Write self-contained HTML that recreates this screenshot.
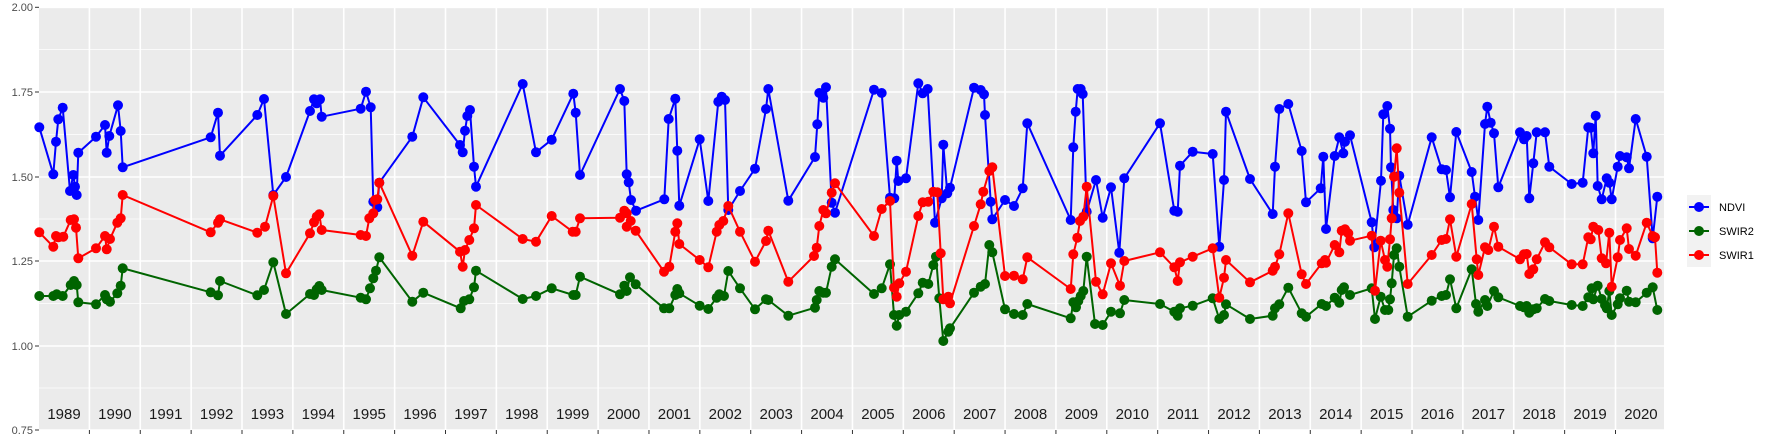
<!DOCTYPE html>
<html><head><meta charset="utf-8"><style>
html,body{margin:0;padding:0;background:#fff;}
svg{display:block;font-family:"Liberation Sans",sans-serif;}
</style></head><body>
<svg id="s" width="1773" height="442" xmlns="http://www.w3.org/2000/svg">
<rect x="39" y="7" width="1625" height="423" fill="#ebebeb"/>
<g id="grid"></g>
<g id="data"></g>
<g font-size="11" fill="#4d4d4d" text-anchor="end">
<text x="33" y="11">2.00</text><text x="33" y="96">1.75</text><text x="33" y="181">1.50</text>
<text x="33" y="265">1.25</text><text x="33" y="350">1.00</text><text x="33" y="434">0.75</text>
</g>
<g id="years" font-size="15" fill="#1a1a1a" text-anchor="middle"></g>
<rect x="1687" y="195" width="24" height="72" fill="#f2f2f2"/>
<g stroke-width="2"><line x1="1689" y1="207" x2="1709" y2="207" stroke="#0000ff"/><line x1="1689" y1="231" x2="1709" y2="231" stroke="#006400"/><line x1="1689" y1="255" x2="1709" y2="255" stroke="#ff0000"/></g>
<circle cx="1699" cy="207" r="5" fill="#0000ff"/><circle cx="1699" cy="231" r="5" fill="#006400"/><circle cx="1699" cy="255" r="5" fill="#ff0000"/>
<g font-size="11" fill="#000"><text x="1719" y="211">NDVI</text><text x="1719" y="235">SWIR2</text><text x="1719" y="259">SWIR1</text></g>
</svg>
<script>
var NS="http://www.w3.org/2000/svg";
function el(p,t,a){var e=document.createElementNS(NS,t);for(var k in a)e.setAttribute(k,a[k]);p.appendChild(e);return e;}
var g=document.getElementById("grid");
[49.6,134.5,219,303.5,388].forEach(function(y){el(g,"line",{x1:39,x2:1664,y1:y,y2:y,stroke:"#fff","stroke-width":0.8});});
[7.3,92,177,261,346,430].forEach(function(y){el(g,"line",{x1:39,x2:1664,y1:y,y2:y,stroke:"#fff","stroke-width":1.6});
 el(g,"line",{x1:35,x2:39,y1:y,y2:y,stroke:"#333","stroke-width":1});});
var yr=document.getElementById("years");
for(var k=0;k<32;k++){var cx=64+k*50.87;var t=el(yr,"text",{x:cx,y:419});t.textContent=1989+k;
 if(k<31){var bx=cx+25.4;el(g,"line",{x1:bx,x2:bx,y1:7,y2:430,stroke:"#fff","stroke-width":1.6});el(g,"line",{x1:bx,x2:bx,y1:430,y2:434,stroke:"#333","stroke-width":1});}}
var B=[39.3,127.3,53.3,174.3,56,141.7,58.3,119.3,62.7,107.7,70,191,73.3,175,75,186.7,76.7,195,78.3,152.7,96,136.7,105,125,106.7,152.7,109.3,136,118,105.3,120.7,131,122.7,167.3,210.7,137.3,218,112.7,220,155.7,257.3,115,264,99,273.3,195,286,177,310,111,314,99.3,316.7,103.3,320,99.3,321.7,116.7,360.7,108.7,366,91.7,370.7,107.3,373.3,201.7,377.3,207.3,379.3,182.7,412.3,136.7,423.3,97.3,460,145,462.7,152.3,465,130.7,467.3,116,470,110,474,166.7,476,186.7,522.7,84,536,152.3,551.7,139.7,573.3,93.7,575.7,112.7,580,175,620,89,624.3,101,626.7,174.3,628.7,182.3,631,200,636,210.7,664.3,199.3,668.7,119,675.3,98.7,677.3,150.7,679.3,205.7,699.7,139.3,708.3,201,718.3,101.7,721.7,96.7,725,100,728.3,210,740,191,755,168.7,766,109,768.3,89,788.3,200.7,815,157,817.3,124.3,819.3,93,823.3,97.7,826,87.3,831.7,202.7,835,212.7,874,89.7,881.7,93,890,197.7,894.3,198.3,896.7,160.7,898.3,181,906,178.3,918.3,83.3,922.7,93.3,927.7,89,935,222.7,941.7,198.3,943.3,144.7,947.3,193.3,950,187.7,974,87.7,980.7,90,984,94.3,985,115,990.7,201.7,992.3,219.3,1005,200,1014,206,1022.7,188.3,1027.3,123.3,1070.7,220,1073.3,147.3,1075.7,111.7,1077.7,89,1080.7,89,1082.7,94,1086.7,211.7,1096,180,1102.7,217.7,1111,187.3,1119.3,252.7,1124.3,178.3,1160,123.3,1174.3,210.7,1177.7,211.7,1180,165.7,1192.7,151.7,1212.7,154,1219.3,246.7,1224,180,1226,111.7,1250,179,1272.7,214,1275,166.7,1279.3,109,1288.3,104,1301.7,151,1306,202.3,1320.7,188.3,1323.3,156.7,1326,229,1334.7,156,1339.3,137.3,1343.3,153.3,1345,141.7,1350,135.3,1371.7,222.3,1374.3,247.3,1381,180.7,1383.3,114.3,1387.3,106,1390,128.7,1391,167.3,1393.3,210,1396.7,218.3,1399.3,175.7,1407.7,224.7,1431.7,137.3,1441.7,169.3,1446,170,1450,197.3,1456.3,132,1471.7,172,1475,196.7,1478.3,220,1485,124,1487.3,106.7,1490.7,122.7,1494,133.3,1498.3,187.3,1520,132.3,1524,139.3,1526.7,136,1529.3,198.3,1533.3,163.3,1536.7,132.3,1545,132.3,1549.3,166.7,1571.7,184,1582.7,182.7,1588.3,127.3,1590.7,127.7,1593.3,153.3,1595.7,115.7,1597.7,186,1601.7,199.3,1606.7,178.3,1609.3,182.7,1611.7,199.3,1617.7,166.7,1620,156,1626.7,157.3,1629,168.3,1635.7,119,1646.7,156.7,1652.7,238.3,1657.3,196.7];
var G=[39.3,296,53.3,296,56.7,294.3,62.7,296,70.7,285,74,281,76.7,285,78.3,302.3,96,304.3,105,295,106.7,299.3,110,301.7,117.3,293.3,120.7,285.7,122.7,268.3,210.7,292.3,218,295.3,220,281,257.3,295.3,264,290,273.3,262.3,286,314,310,294,314,295,316.7,289.3,319.3,286,321.7,290,360.7,297.7,366,299.3,370,288.3,373.3,278.3,376,270.7,379.3,257.3,412.3,301.7,423.3,292.7,460.7,308.3,464,301,469.3,299.3,474,287.3,476,270.7,522.7,299,536,296,551.7,288.3,573.3,295,575.7,295,580,276.7,620,294.3,624.3,285.7,626.7,291,630,277.3,635.7,284.3,664,308.3,669.3,308.3,675.3,295,677.3,289,679.3,293.3,699.7,305.7,708.3,309,716.7,297.7,719.3,294.3,724,296,728.3,271,740,288.3,755,309.3,766,299.3,768.3,300,788.3,315.7,815,307.7,816.7,300,819.3,291,823.3,292.7,826,292.7,831.7,266.7,835,259.3,874,294,881.7,288.3,890,264.3,894,315,896.7,325.7,899.3,315,906,311.7,918.3,293.3,922.7,282.7,928.3,284,933.3,265,936,256.7,939.3,298.3,943.3,341,948.3,331.7,950,328.3,974,292.7,980.7,286.7,985,284,989.3,245,992.3,252.3,1005,309.3,1014,314,1022.7,315,1027.3,304,1070.7,318.3,1073.3,302.3,1076,307.3,1078.3,301,1080.7,296,1083.3,291,1086.7,256.7,1095,324,1102.7,325,1111,311.7,1120,313.3,1124.3,300,1160,304,1174.3,311.7,1177.7,315.7,1180,308.3,1192.7,305.7,1212.7,298.3,1219.3,319,1224,315,1226,304.3,1250,319,1272.7,315.7,1275,308.3,1279.3,304.3,1288.3,287.7,1301.7,313.3,1306,316.7,1321.7,304,1326,306,1334.7,297.7,1339.3,302.7,1341.7,290,1344,287.3,1350,295,1371.7,288.3,1375,319,1380.7,296.7,1385,310,1388.3,310,1390,299.3,1391.7,283.3,1394,255,1396.7,248.3,1399.3,266.7,1407.7,316.7,1431.7,300.7,1441.7,296,1446,295,1450,279.3,1456.3,308.3,1471.7,269.3,1476,304,1478.3,311.7,1485,300,1487.3,306,1494,291,1498.3,297.3,1520,306,1524,307.3,1526.7,306,1529.3,312.7,1533.3,309.3,1536.7,308.3,1545,299,1549.3,301,1571.7,305,1582.7,306,1588.3,297.3,1591.7,288.3,1593.3,299.3,1597.7,285.7,1601.7,299,1605,305,1606.7,308.3,1609.3,291,1611.7,315,1617.7,304.3,1620,298.3,1626.7,290.7,1629,301.7,1635.7,302.3,1646.7,292.7,1652.7,287.3,1657.3,310];
var R=[39.3,232.3,53.3,246.7,56,236,58.3,237.3,63.3,236.7,70.7,220,74,219.3,76,227.7,78.3,258.3,96,248.3,105,236,106.7,249.3,110,239,117.3,222.7,120.7,218.3,122.7,195,210.7,232.3,218,222.7,220,219.3,257.3,232.7,265,226.7,273.3,196,286,273.3,310,233.3,314,222.3,316.7,216.7,319.3,214.3,321.7,230,360.7,235,366,236,369.3,218.3,373.3,213.3,375,200,377.3,199.3,379.3,182.7,412.3,255.7,423.3,221.7,460,251.7,462.7,266.7,465,250,469.3,240,474,228.3,476,205,522.7,239,536,241.7,551.7,216,572.7,231.7,575.7,231.7,580,218.3,620,217.7,624.3,210.7,626.7,213.3,630.7,221,626.7,226.7,635.7,230.7,664,271.7,669.3,266.7,675.3,231.7,677.3,223.3,679.3,244,699.7,260,708.3,267.3,716.7,231.7,719.3,225,723.3,221,728.3,206,740,231.7,755,261.7,766,241,768.3,230.7,788.3,281.7,814,256,816.7,247.7,819.3,226,823.3,210,826,213.3,831.7,192.7,835,183.3,874,236,881.7,209,890,201,894,287.7,896.7,296.7,899.3,283.3,906,271.7,918.3,216,922.7,202.3,928.3,201.7,933.3,191.7,937.3,192.3,940.7,253.3,943.3,299.3,948.3,296.7,950,303.3,974,226,980.7,204.3,983.3,191.7,989.3,171,992.3,167.3,1005,276,1014,275.7,1022.7,279.3,1027.3,257.3,1070.7,289,1073.3,254.3,1077.3,237.7,1080,221,1083.3,216.7,1086.7,186.7,1096,281.7,1102.7,294.3,1111,263.3,1120,285.7,1124.3,261,1160,252.3,1174.3,267.3,1177.7,281,1180,262.3,1192.7,256.7,1212.7,248.3,1219.3,297.7,1224,277.7,1226,260,1250,282.3,1272.7,270.7,1275,266.7,1279.3,254.3,1288.3,213.3,1301.7,274.3,1306,284,1321.7,263.3,1325,260,1326,262.7,1334.7,245,1339.3,252.3,1341.7,230.7,1345,229.3,1348.3,233.3,1350,240.7,1371.7,235.7,1375,290.7,1380.7,240.7,1385,260,1387.3,266.7,1390,239.3,1391.7,218.3,1394,176.7,1396.7,148.3,1399.3,192.7,1407.7,284,1431.7,255,1441.7,240,1446,239,1450,219.3,1456.3,256.7,1471.7,204,1476.7,259.3,1478.3,275,1485,247.3,1488.3,250,1494,226.7,1498.3,246.7,1520,259.3,1524,254.3,1526.7,254,1529.3,274,1533.3,269.3,1536.7,259.3,1545,242.3,1549.3,247.3,1571.7,264.3,1582.7,264.3,1588.3,237.3,1590.7,239.3,1593.3,226.7,1598.3,230,1601.7,258.3,1606,263.3,1609.3,232.7,1611.7,286.7,1617.7,257.3,1620,240,1626.7,228.3,1629,249,1635.7,255.7,1646.7,222.7,1652.7,236,1655,237.3,1657.3,272.7];
var d=document.getElementById("data");
[[B,"#0000ff"],[G,"#006400"],[R,"#ff0000"]].forEach(function(s){
 var a=s[0],pts=[];for(var i=0;i<a.length;i+=2)pts.push(a[i]+","+a[i+1]);
 el(d,"polyline",{points:pts.join(" "),fill:"none",stroke:s[1],"stroke-width":2,"stroke-linejoin":"round"});
 for(var i=0;i<a.length;i+=2)el(d,"circle",{cx:a[i],cy:a[i+1],r:5,fill:s[1]});
});
</script>
</body></html>
